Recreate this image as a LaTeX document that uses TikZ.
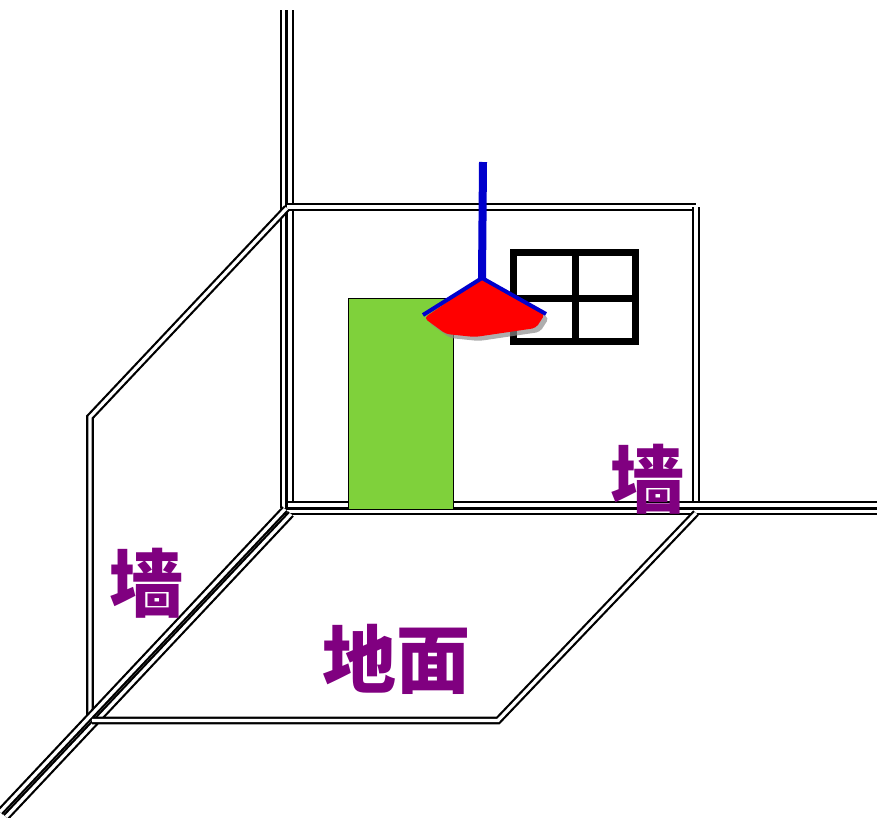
\documentclass[tikz,border=0pt]{standalone}
\usepackage{fontspec}
\newfontfamily\cjk{Noto Sans CJK SC}
\definecolor{label}{RGB}{128,0,128}
\definecolor{door}{RGB}{127,209,59}
\definecolor{cord}{RGB}{0,0,204}
\tikzset{
  edge/.style={draw=black, double=white, line width=2.2pt, double distance=3.2pt},
  roomtext/.style={text=label, font=\cjk\bfseries\fontsize{74}{74}\selectfont, inner sep=0pt},
  frame/.style={draw=black, line width=7pt, line join=miter}
}
\begin{document}
\begin{tikzpicture}[x=1pt,y=-1pt]
\useasboundingbox (0,0) rectangle (877,817);

% room edges: corner post, back wall, side wall, floor
\draw[edge] (283.5,10) -- (283.5,508);
\draw[edge] (290,10) -- (290,508);
\draw[edge] (287,207) -- (696,207);
\draw[edge] (696,207) -- (696,508);
\draw[edge] (288,505) -- (877,505);
\draw[edge] (284,511.5) -- (877,511.5);
\draw[edge] (287,208) -- (90,417) -- (90,720);
\draw[edge] (285,509) -- (0,812);
\draw[edge] (291,514) -- (6,817);
\draw[edge] (696,513) -- (498,720.5) -- (92,720.5);

% door
\node[draw=black, line width=0.8pt, fill=door, minimum width=105pt, minimum height=211pt, inner sep=0pt] (door) at (400.5,403.5) {};

% window with cross bars
\coordinate (wNW) at (513.5,252);
\coordinate (wSE) at (635,341);
\draw[frame] (wNW) rectangle (wSE);
\coordinate (wT) at (575,252);
\coordinate (wB) at (575,341);
\coordinate (wL) at (513.5,298);
\coordinate (wR) at (635,298);
\draw[frame] (wT) -- (wB);
\draw[frame] (wL) -- (wR);

% hanging lamp
\coordinate (cordTop) at (483,162);
\coordinate (apex) at (482,278);
\coordinate (shadeL) at (423,315);
\coordinate (shadeR) at (546,314);
\fill[black!45, opacity=0.7, shift={(4,4)}, rounded corners=4pt]
  (apex) -- (545,314) -- (536,328) -- (475,337) -- (446,334) -- (424,318) -- cycle;
\fill[red, rounded corners=4pt]
  (apex) -- (545,314) -- (536,328) -- (475,337) -- (446,334) -- (424,318) -- cycle;
\draw[cord, line width=8pt] (cordTop) -- (apex);
\draw[cord, line width=4pt, line join=round] (shadeL) -- (apex) -- (shadeR);

% labels
\node[roomtext] (wallLeft) at (146,583) {墙};
\node[roomtext] (wallBack) at (647,479) {墙};
\node[roomtext] (floor) at (396,659) {地面};
\end{tikzpicture}
\end{document}
